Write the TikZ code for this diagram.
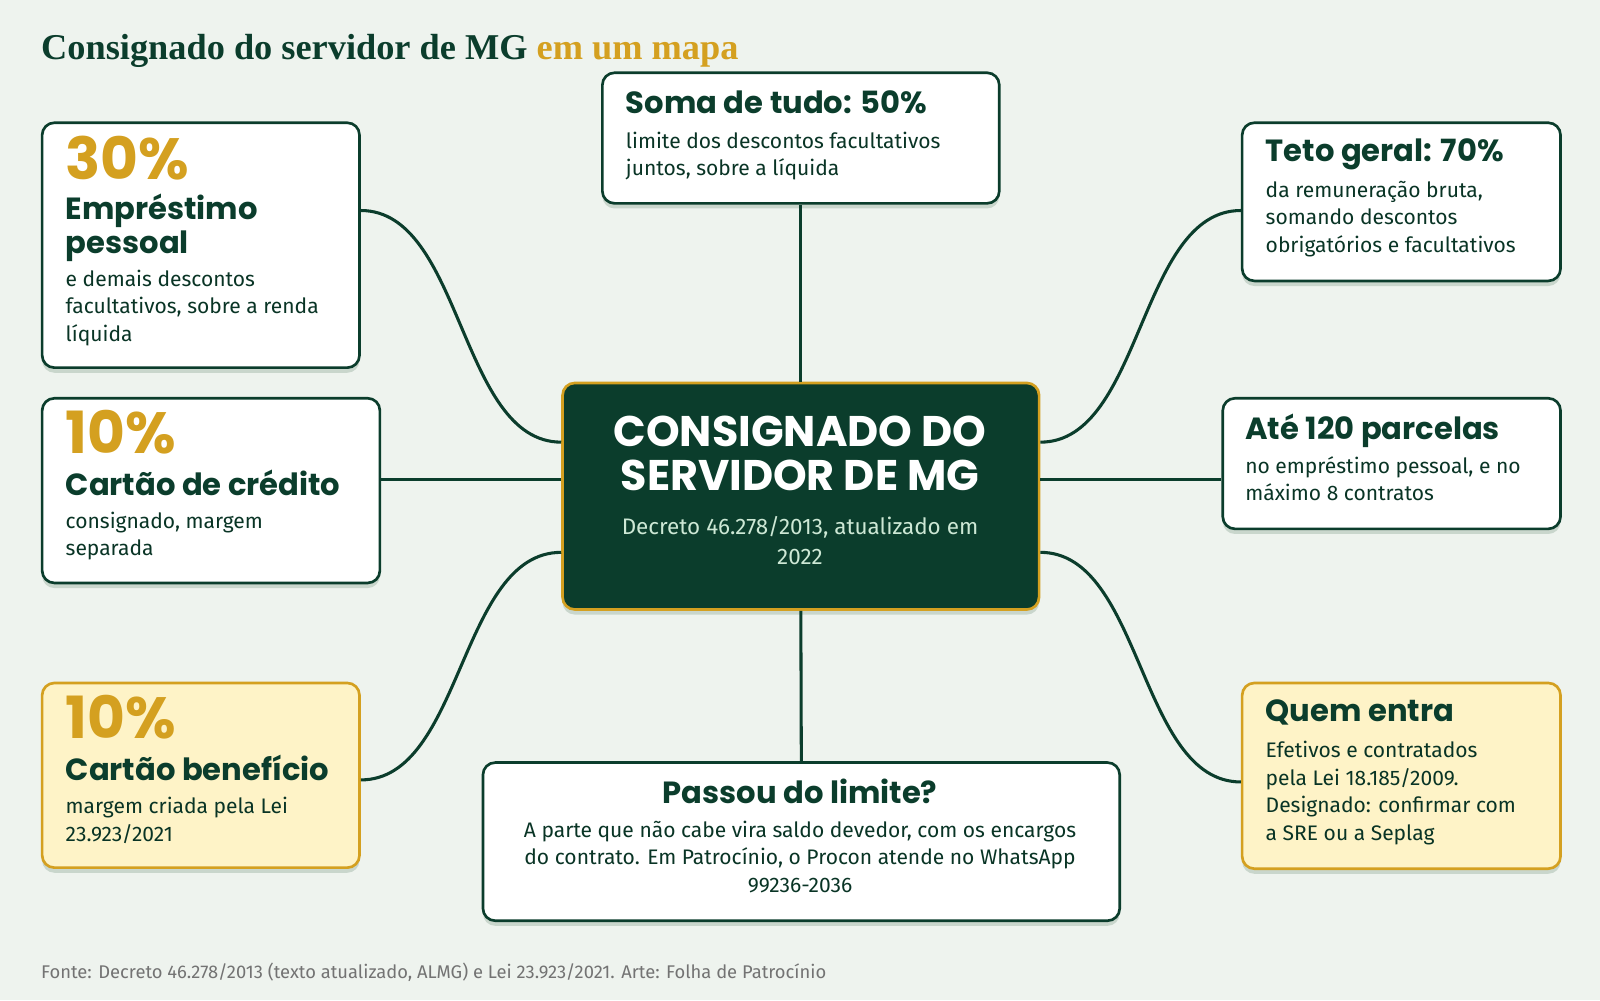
\documentclass[tikz,border=0pt]{standalone}
\usepackage{fontspec}
\setmainfont{Fira Sans}
\newfontfamily\hd{Poppins}
\newfontfamily\ttl{Liberation Serif}
\usetikzlibrary{shadows}
\definecolor{bg}{HTML}{EEF3EE}
\definecolor{dk}{HTML}{0B3D2C}
\definecolor{gd}{HTML}{D4A020}
\definecolor{yl}{HTML}{FEF3C7}
\definecolor{sh}{HTML}{C9D6CC}
\definecolor{sub}{HTML}{CDE8D5}
\begin{document}
\begin{tikzpicture}[x=0.5pt,y=-0.5pt,
  box/.style={draw=dk,line width=1.3pt,fill=white,rounded corners=6pt,anchor=north west,inner sep=0pt,
    drop shadow={shadow xshift=0pt,shadow yshift=-2.5pt,fill=sh,opacity=1}},
  ybox/.style={box,draw=gd,fill=yl},
  con/.style={draw=dk,line width=1.5pt},
  big/.style={anchor=north west,inner sep=0pt,text=gd,font=\hd\bfseries\fontsize{28.5}{28}\selectfont},
  hh/.style={anchor=north west,inner sep=0pt,text=dk,align=left,font=\hd\bfseries\fontsize{15}{16.5}\selectfont},
  bd/.style={anchor=north west,inner sep=0pt,text=dk!85!black,align=left,font=\fontsize{10.3}{13.5}\selectfont}]
\fill[bg] (0,0) rectangle (1568,980);
\useasboundingbox (0,0) rectangle (1568,980);
\node[anchor=north west,inner sep=0pt,font=\ttl\bfseries\fontsize{17.8}{18}\selectfont,text=dk] (title) at (40,33)
 {Consignado do servidor de MG \textcolor{gd}{em um mapa}};
% boxes
\node[box,minimum width=389*0.5pt,minimum height=128*0.5pt] (t) at (589,70) {};
\node[box,minimum width=311*0.5pt,minimum height=240*0.5pt] (l1) at (40,119) {};
\node[box,minimum width=331*0.5pt,minimum height=181*0.5pt] (l2) at (40,389) {};
\node[ybox,minimum width=311*0.5pt,minimum height=181*0.5pt] (l3) at (40,668) {};
\node[box,minimum width=312*0.5pt,minimum height=155*0.5pt] (r1) at (1216,119) {};
\node[box,minimum width=331*0.5pt,minimum height=128*0.5pt] (r2) at (1197,389) {};
\node[ybox,minimum width=312*0.5pt,minimum height=182*0.5pt] (r3) at (1216,668) {};
\node[box,minimum width=624*0.5pt,minimum height=155*0.5pt] (b) at (472,746) {};
\node[box,fill=dk,draw=gd,minimum width=467*0.5pt,minimum height=222*0.5pt] (c) at (550,374) {};
% connectors
\draw[con] (t.south) -- (c.north);
\draw[con] (c.south) -- (b.north);
\draw[con] ([yshift=5.25pt]l2.east) -- ([yshift=8pt]c.west);
\draw[con] ([yshift=8pt]c.east) -- ([yshift=-8pt]r2.west);
\draw[con] ([yshift=17pt]l1.east) .. controls +(100,0) and +(-100,0) .. ([yshift=26.5pt]c.west);
\draw[con] ([yshift=-2.25pt]l3.east) .. controls +(100,0) and +(-100,0) .. ([yshift=-27.5pt]c.west);
\draw[con] ([yshift=26.5pt]c.east) .. controls +(100,0) and +(-100,0) .. ([yshift=-4.25pt]r1.west);
\draw[con] ([yshift=-27.5pt]c.east) .. controls +(100,0) and +(-100,0) .. ([yshift=-3pt]r3.west);
% texts
\node[hh] (th) at (613,88) {Soma de tudo: 50\%};
\node[bd] (tb) at (613,129) {limite dos descontos facultativos\\juntos, sobre a líquida};
\node[big] (l1n) at (64,133) {30\%};
\node[hh] (l1h) at (64,190) {Empréstimo\\pessoal};
\node[bd] (l1b) at (64,264) {e demais descontos\\facultativos, sobre a renda\\líquida};
\node[big] (l2n) at (64,402) {10\%};
\node[hh] (l2h) at (64,460) {Cartão de crédito};
\node[bd] (l2b) at (64,501) {consignado, margem\\separada};
\node[big] (l3n) at (64,681) {10\%};
\node[hh] (l3h) at (64,740) {Cartão benefício};
\node[bd] (l3b) at (64,781) {margem criada pela Lei\\23.923/2021};
\node[hh] (r1h) at (1240,136) {Teto geral: 70\%};
\node[bd] (r1b) at (1240,177) {da remuneração bruta,\\somando descontos\\obrigatórios e facultativos};
\node[hh] (r2h) at (1220,405) {Até 120 parcelas};
\node[bd] (r2b) at (1220,447) {no empréstimo pessoal, e no\\máximo 8 contratos};
\node[hh] (r3h) at (1240,685) {Quem entra};
\node[bd] (r3b) at (1240,726) {Efetivos e contratados\\pela Lei 18.185/2009.\\Designado: confirmar com\\a SRE ou a Seplag};
\node[hh,anchor=north,align=center] (bh) at (784,763) {Passou do limite?};
\node[bd,anchor=north,align=center] (bb) at (784,804) {A parte que não cabe vira saldo devedor, com os encargos\\do contrato. Em Patrocínio, o Procon atende no WhatsApp\\99236-2036};
\node[anchor=north,inner sep=0pt,align=center,text=white,font=\hd\bfseries\fontsize{21}{21.5}\selectfont] (ch) at (784,407) {CONSIGNADO DO\\SERVIDOR DE MG};
\node[anchor=north,inner sep=0pt,align=center,text=sub,font=\fontsize{11}{14.5}\selectfont] (cs) at (784,506) {Decreto 46.278/2013, atualizado em\\2022};
\node[anchor=north west,inner sep=0pt,text=black!55,font=\fontsize{9}{10}\selectfont] (ft) at (40,943)
 {Fonte: Decreto 46.278/2013 (texto atualizado, ALMG) e Lei 23.923/2021. Arte: Folha de Patrocínio};
\end{tikzpicture}
\end{document}
